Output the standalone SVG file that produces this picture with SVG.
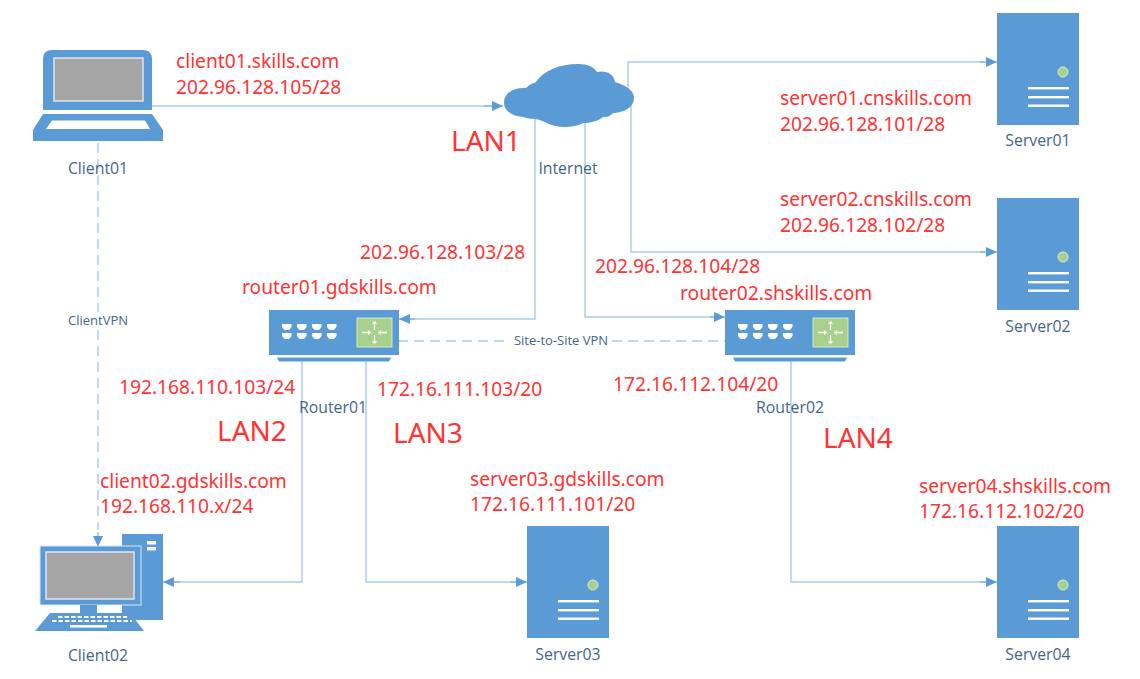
<svg xmlns="http://www.w3.org/2000/svg" width="1140" height="679" viewBox="0 0 1140 679">
<style>
.f{fill:#5b9bd5}
.w{fill:#fff}
.g{fill:#a5a5a5;stroke:#dbe5f1;stroke-width:1.5}
.c{fill:none;stroke:#a9cbe8;stroke-width:1.4}
.a{fill:none;stroke:#7fb2df;stroke-width:1.2;marker-end:url(#arr)}
.d{fill:none;stroke:#a9cbe8;stroke-width:1.4;stroke-dasharray:10 6}
.l{font-family:"Open Sans","Noto Sans",sans-serif;font-size:15.8px;fill:#44668a;text-anchor:middle}
.s{font-family:"Open Sans","Noto Sans",sans-serif;font-size:13px;fill:#44668a;text-anchor:middle}
.r{font-family:"Noto Sans","Open Sans",sans-serif;font-size:19.200px;fill:#ff3333}
.b{font-family:"Noto Sans","Open Sans",sans-serif;font-size:28px;fill:#ff3333}
</style>
<defs>
<marker id="arr" markerUnits="userSpaceOnUse" markerWidth="12" markerHeight="10" refX="11" refY="5" orient="auto"><path d="M0 0L11 5L0 10Z" fill="#5b9bd5"/></marker>
<g id="server">
<rect class="f" x="0" y="0" width="82" height="112"/>
<circle cx="66" cy="59" r="5" fill="#a9d18e" stroke="#dcebd0"/>
<rect class="w" x="31" y="74" width="41" height="2.4"/>
<rect class="w" x="31" y="83" width="41" height="2.4"/>
<rect class="w" x="31" y="91.500" width="41" height="2.400"/>
</g>
<g id="port"><path d="M0 0H9.500V3L7 6H2.500L0 3Z" fill="#fff"/></g>
<g id="router">
<rect class="f" x="0" y="0" width="130" height="45"/>
<path class="f" d="M8 47.500H122L120 51.500H10Z"/>
<use href="#port" x="13" y="14"/><use href="#port" x="28" y="14"/><use href="#port" x="43" y="14"/><use href="#port" x="58" y="14"/>
<use href="#port" x="13" y="23"/><use href="#port" x="28" y="23"/><use href="#port" x="43" y="23"/><use href="#port" x="58" y="23"/>
<rect x="88" y="8" width="35" height="29" fill="#a9d18e" stroke="#d6e8c8"/>
<path d="M105.500 12V20M105.500 25V33M93 22.500H101M110 22.500H118" stroke="#fff" stroke-width="1.300" fill="none"/>
<path d="M105.500 10.500L103 14H108ZM105.500 34.500L103 31H108ZM102.500 22.500L99 20V25ZM108.500 22.500L112 20V25Z" fill="#fff"/>
</g>
</defs>
<rect width="1140" height="679" fill="#fff"/>
<g id="connectors">
<path class="c" d="M535 115V319H410"/>
<path class="c" d="M585 120V317H715"/>
<path class="c" d="M628 105V62H985"/>
<path class="c" d="M631 105V252H985"/>
<path class="c" d="M152 106H492"/>
<path class="c" d="M302 361V582H174"/>
<path class="c" d="M366 361V582H516"/>
<path class="c" d="M791 361V582H986"/>
<path class="a" d="M484 106H503"/>
<path class="a" d="M980 62H997"/>
<path class="a" d="M980 252H997"/>
<path class="a" d="M415 319H399"/>
<path class="a" d="M710 317H725"/>
<path class="a" d="M180 582H163"/>
<path class="a" d="M510 582H527"/>
<path class="a" d="M980 582H997"/>
<path class="d" d="M98 143V312M98 330V530"/>
<path class="a" d="M98 532V547"/>
<path class="d" d="M398 341H510M612 341H725"/>
<text class="s" x="98" y="325">ClientVPN</text>
<text class="s" x="561" y="345">Site-to-Site VPN</text>
</g>
<g id="client01">
<path class="f" d="M43 110V59Q43 50 52 50H143Q152 50 152 59V110Z"/>
<rect class="g" x="54" y="58" width="89" height="43"/>
<path class="f" fill-rule="evenodd" d="M43 114H152L163 130V141H33V130ZM52 120.500L46 129H150L145 120.500Z"/>
<text class="l" x="98" y="174">Client01</text>
</g>
<g id="internet">
<path class="f" d="M504 103C504 92 515 87 526 88C530 84 533 83 535 83C544 70 560 64 578 64C588 64 594 67 597 72C606 70 614 74 615 82C625 85 634 90 634 98C634 108 622 113 613 113C610 117 606 117 603 117C598 121 590 123 583 123C574 128 556 129 545 122C540 120 537 119 535 119C531 119 526 118 523 117C512 116 504 111 504 103Z"/>
<text class="l" x="568" y="174">Internet</text>
</g>
<g id="server01"><use href="#server" x="997" y="13"/><text class="l" x="1038" y="146">Server01</text></g>
<g id="server02"><use href="#server" x="997" y="198"/><text class="l" x="1038" y="332">Server02</text></g>
<g id="router01"><use href="#router" x="269" y="310"/><text class="l" x="333" y="413">Router01</text></g>
<g id="router02"><use href="#router" x="725" y="310"/><text class="l" x="790" y="413">Router02</text></g>
<g id="client02">
<path class="f" d="M122 534H163V620H122Z"/>
<rect class="w" x="147" y="541" width="9" height="3.500"/>
<rect class="w" x="147" y="547" width="9" height="3.500"/>
<rect class="f" x="40" y="546" width="101" height="59" stroke="#dbe5f1" stroke-width="1"/>
<rect class="g" x="46" y="552" width="88" height="47"/>
<rect class="f" x="80" y="605" width="17" height="9"/>
<path class="f" d="M50 613H130L144 631H35Z"/>
<path d="M58 617H127M52 621H132" stroke="#fff" stroke-width="2.200" stroke-dasharray="4.500 2"/>
<rect class="w" x="70" y="625" width="37" height="2.600"/>
<text class="l" x="98" y="661">Client02</text>
</g>
<g id="server03"><use href="#server" x="527" y="526"/><text class="l" x="568" y="660">Server03</text></g>
<g id="server04"><use href="#server" x="997" y="526"/><text class="l" x="1038" y="660">Server04</text></g>
<g id="labels">
<text class="r" x="176" y="68">client01.skills.com</text>
<text class="r" x="176" y="94">202.96.128.105/28</text>
<text class="b" x="451" y="151">LAN1</text>
<text class="r" x="780" y="105">server01.cnskills.com</text>
<text class="r" x="780" y="131">202.96.128.101/28</text>
<text class="r" x="780" y="206">server02.cnskills.com</text>
<text class="r" x="780" y="232">202.96.128.102/28</text>
<text class="r" x="360" y="259">202.96.128.103/28</text>
<text class="r" x="595" y="273">202.96.128.104/28</text>
<text class="r" x="242" y="294">router01.gdskills.com</text>
<text class="r" x="680" y="299.500">router02.shskills.com</text>
<text class="r" x="119" y="394">192.168.110.103/24</text>
<text class="r" x="377" y="396">172.16.111.103/20</text>
<text class="r" x="613" y="391">172.16.112.104/20</text>
<text class="b" x="217" y="441">LAN2</text>
<text class="b" x="393" y="443">LAN3</text>
<text class="b" x="823" y="448">LAN4</text>
<text class="r" x="100" y="488">client02.gdskills.com</text>
<text class="r" x="100" y="513">192.168.110.x/24</text>
<text class="r" x="470" y="486">server03.gdskills.com</text>
<text class="r" x="470" y="511">172.16.111.101/20</text>
<text class="r" x="919" y="493">server04.shskills.com</text>
<text class="r" x="919" y="518">172.16.112.102/20</text>
</g>
</svg>
